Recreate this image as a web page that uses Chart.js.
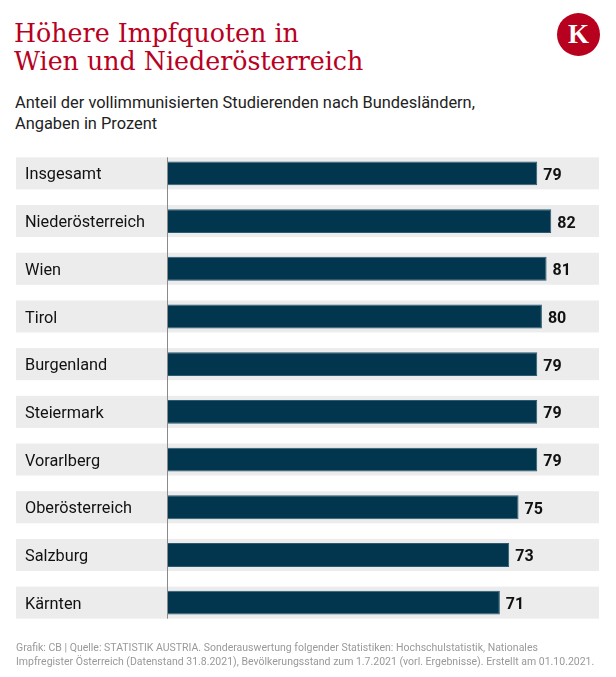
<!DOCTYPE html>
<html>
<head>
<meta charset="utf-8">
<script src="https://cdn.jsdelivr.net/npm/chart.js@4"></script>
<style>
  body { margin: 0; background: #fff; }
  #wrap { position: relative; width: 616px; height: 677px; overflow: hidden; }
  #chart { position: absolute; left: 0; top: 0; }
  .title { position: absolute; left: 14px; top: 20px; color: #b8001f; font-family: "DejaVu Serif", serif; font-size: 25.3px; line-height: 28px; }
  .sub { position: absolute; left: 15px; top: 92px; color: #222; font-family: Roboto, sans-serif; font-size: 16.4px; line-height: 21px; }
  .foot { position: absolute; left: 16px; top: 641px; color: #999; font-family: Roboto, sans-serif; font-size: 10.5px; line-height: 14px; white-space: nowrap; }
  .logo { position: absolute; left: 557px; top: 13px; width: 43px; height: 43px; border-radius: 50%; background: #b8001f; color: #fff;
          font-family: "Liberation Serif", serif; font-weight: bold; font-size: 27px; line-height: 43px; text-align: center; }
</style>
</head>
<body>
<div id="wrap">
  <div class="title">Höhere Impfquoten in<br>Wien und Niederösterreich</div>
  <div class="logo">K</div>
  <div class="sub">Anteil der vollimmunisierten Studierenden nach Bundesländern,<br>Angaben in Prozent</div>
  <canvas id="chart" width="616" height="677"></canvas>
  <div class="foot">Grafik: CB | Quelle: STATISTIK AUSTRIA. Sonderauswertung folgender Statistiken: Hochschulstatistik, Nationales<br>Impfregister Österreich (Datenstand 31.8.2021), Bevölkerungsstand zum 1.7.2021 (vorl. Ergebnisse). Erstellt am 01.10.2021.</div>
</div>
<script>
const laender = ['Insgesamt', 'Niederösterreich', 'Wien', 'Tirol', 'Burgenland', 'Steiermark', 'Vorarlberg', 'Oberösterreich', 'Salzburg', 'Kärnten'];
const quoten = [79, 82, 81, 80, 79, 79, 79, 75, 73, 71];

const barColor = '#02364f';
const bandColor = '#ececec';

// graue Streifen hinter jeder Zeile + senkrechte Achsenlinie
const bandPlugin = {
    id: 'bands',
    beforeDraw(chart) {
        const ctx = chart.ctx;
        const y = chart.scales.y;
        ctx.save();
        ctx.fillStyle = bandColor;
        laender.forEach((_, i) => {
            const cy = y.getPixelForValue(i);
            ctx.fillRect(16, cy - 16, 583, 32);
        });
        ctx.restore();
    },
    afterDatasetsDraw(chart) {
        const ctx = chart.ctx;
        const y = chart.scales.y;
        const x0 = Math.round(chart.scales.x.getPixelForValue(0)) - 0.5;
        ctx.save();
        ctx.strokeStyle = '#8a8a8a';
        ctx.lineWidth = 1;
        ctx.beginPath();
        ctx.moveTo(x0, y.getPixelForValue(0) - 16);
        ctx.lineTo(x0, y.getPixelForValue(laender.length - 1) + 16);
        ctx.stroke();
        // Werte rechts neben den Balken
        ctx.fillStyle = '#111';
        ctx.font = 'bold 16px Roboto';
        ctx.textBaseline = 'alphabetic';
        chart.getDatasetMeta(0).data.forEach((bar, i) => {
            ctx.fillText(quoten[i], bar.x + 6, bar.y + 6.5);
        });
        ctx.restore();
    }
};

new Chart(document.getElementById('chart'), {
    type: 'bar',
    data: {
        labels: laender,
        datasets: [{
            data: quoten,
            backgroundColor: barColor,
            borderColor: '#2c5a72',
            borderWidth: 1,
            borderSkipped: 'start',
            barPercentage: 0.5,
            categoryPercentage: 1
        }]
    },
    options: {
        indexAxis: 'y',
        responsive: false,
        animation: false,
        layout: { padding: { left: 25, top: 149.5, bottom: 50.5, right: 18 } },
        plugins: { legend: { display: false }, tooltip: { enabled: false } },
        scales: {
            x: {
                min: 0,
                max: 92,
                display: false
            },
            y: {
                grid: { display: false },
                border: { display: false },
                afterFit: scale => { scale.width = 143; },
                ticks: {
                    crossAlign: 'far',
                    labelOffset: 2,
                    color: '#111',
                    font: { family: 'Roboto', size: 16.3 }
                }
            }
        }
    },
    plugins: [bandPlugin]
});
</script>
</body>
</html>
